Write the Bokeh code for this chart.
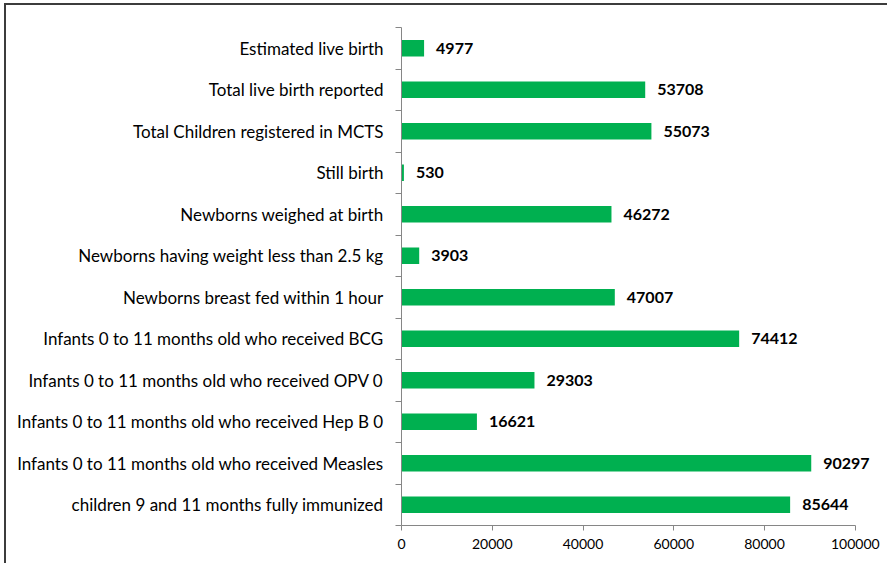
from bokeh.plotting import figure
from bokeh.models import FixedTicker, Range1d, BasicTickFormatter, LabelSet, ColumnDataSource
from bokeh.core.properties import value
from bokeh.embed import file_html
from bokeh.resources import INLINE

categories = [
    "Estimated live birth",
    "Total live birth reported",
    "Total Children registered in MCTS",
    "Still birth",
    "Newborns weighed at birth",
    "Newborns having weight less than 2.5 kg",
    "Newborns breast fed within 1 hour",
    "Infants 0 to 11 months old who received BCG",
    "Infants 0 to 11 months old who received OPV 0",
    "Infants 0 to 11 months old who received Hep B 0",
    "Infants 0 to 11 months old who received Measles",
    "children 9 and 11 months fully immunized",
]
values = [4977, 53708, 55073, 530, 46272, 3903, 47007, 74412, 29303, 16621, 90297, 85644]
x_ticks = [0, 20000, 40000, 60000, 80000, 100000]

n = len(categories)
ys = [n - i - 0.5 for i in range(n)]
labels = [str(v) for v in values]

FONT = "Lato"
GREEN = "#00B050"

src = ColumnDataSource(dict(y=ys, v=values, t=labels))

p = figure(width=883, height=560, output_backend="svg", toolbar_location=None,
           x_range=Range1d(0, 106000), y_range=Range1d(0, n))
p.min_border_left = 395
p.min_border_right = 7
p.min_border_top = 22
p.min_border_bottom = 40
p.outline_line_color = None
p.xgrid.grid_line_color = None
p.ygrid.grid_line_color = None
p.styles = {"border-top": "2px solid #3c3c3c", "border-left": "2px solid #3c3c3c",
            "margin-top": "3px", "margin-left": "4px"}

p.hbar(y="y", left=0, right="v", height=0.4, source=src, fill_color=GREEN, line_color=None)
lbl = LabelSet(x="v", y="y", text="t", source=src, x_offset=12, y_offset=0,
               text_baseline="middle", text_align="left",
               text_font=value(FONT), text_font_style="bold", text_font_size="16px",
               text_color="black")
p.add_layout(lbl)

xa = p.xaxis[0]
xa.ticker = FixedTicker(ticks=x_ticks)
xa.bounds = (x_ticks[0], x_ticks[-1])
xa.formatter = BasicTickFormatter(use_scientific=False)
xa.axis_line_color = "#868686"
xa.major_tick_line_color = "#868686"
xa.major_tick_out = 5
xa.major_tick_in = 0
xa.minor_tick_line_color = None
xa.major_label_text_font = FONT
xa.major_label_text_font_size = "14px"
xa.major_label_text_color = "black"
xa.major_label_standoff = 8

ya = p.yaxis[0]
ya.ticker = FixedTicker(ticks=ys, minor_ticks=list(range(n + 1)))
ya.major_label_overrides = {y: c for y, c in zip(ys, categories)}
ya.axis_line_color = "#868686"
ya.major_tick_line_color = None
ya.major_tick_out = 0
ya.major_tick_in = 0
ya.minor_tick_line_color = "#868686"
ya.minor_tick_out = 6
ya.minor_tick_in = 0
ya.major_label_text_font = FONT
ya.major_label_text_font_size = "17px"
ya.major_label_text_color = "black"
ya.major_label_standoff = 12

open("out.html", "w").write(file_html(p, INLINE))
